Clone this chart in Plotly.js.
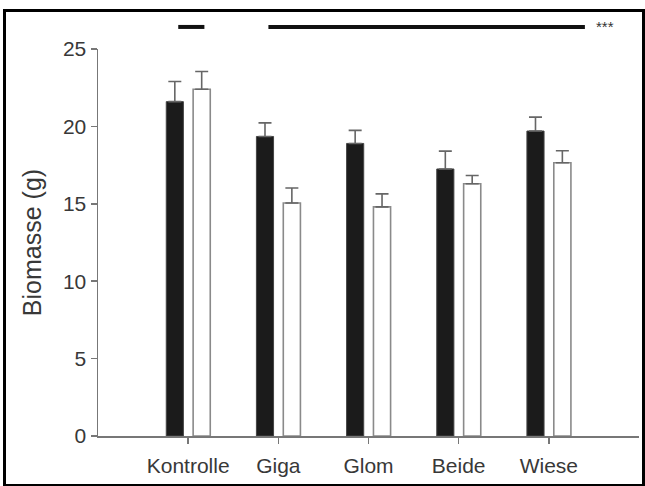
<!DOCTYPE html>
<html>
<head>
<meta charset="utf-8">
<script src="https://cdn.plot.ly/plotly-3.0.1.min.js"></script>
<style>
  html, body { margin:0; padding:0; background:#fff; }
  #wrap { position:relative; width:645px; height:486px; }
  #chart { position:absolute; left:0; top:0; width:645px; height:486px; }
  #frame { position:absolute; left:3px; top:9px; width:636px; height:472px; border:3px solid #000; pointer-events:none; }
</style>
</head>
<body>
<div id="wrap">
  <div id="chart"></div>
  <div id="frame"></div>
</div>
<script>
// Data
const categories = ["Kontrolle", "Giga", "Glom", "Beide", "Wiese"];
const blackValues = [21.6, 19.35, 18.9, 17.25, 19.7];
const blackErrors = [1.3, 0.88, 0.84, 1.15, 0.9];
const whiteValues = [22.4, 15.05, 14.8, 16.3, 17.65];
const whiteErrors = [1.15, 0.97, 0.84, 0.53, 0.78];
const yTicks = [0, 5, 10, 15, 20, 25];
// significance bars: [start category index, end category index]
const sigLines = [[-0.11, 0.18], [0.89, 4.4]];
const sigLabel = "***";

const xIdx = categories.map((c, i) => i);
const font = "Liberation Sans, Arial, sans-serif";

const traces = [
  {
    type: "bar", x: xIdx, y: blackValues,
    width: 0.19, offset: -0.243,
    marker: { color: "#1b1b1b", line: { color: "#444", width: 1 } },
    error_y: { type: "data", array: blackErrors, arrayminus: blackErrors.map(() => 0), symmetric: false,
               color: "#666", thickness: 1.6, width: 6.5 },
    showlegend: false, hoverinfo: "none"
  },
  {
    type: "bar", x: xIdx, y: whiteValues,
    width: 0.19, offset: 0.055,
    marker: { color: "#ffffff", line: { color: "#8a8a8a", width: 1.6 } },
    error_y: { type: "data", array: whiteErrors, arrayminus: whiteErrors.map(() => 0), symmetric: false,
               color: "#666", thickness: 1.6, width: 6.5 },
    showlegend: false, hoverinfo: "none"
  }
];

const shapes = sigLines.map(s => ({
  type: "line", xref: "x", yref: "paper",
  x0: s[0], x1: s[1], y0: 1.057, y1: 1.057,
  line: { color: "#111", width: 4 }
}));

const layout = {
  width: 645, height: 486,
  margin: { l: 97.5, r: 6, t: 49, b: 49.5 },
  paper_bgcolor: "#fff", plot_bgcolor: "#fff",
  font: { family: font, color: "#333", size: 21 },
  barmode: "overlay",
  xaxis: {
    range: [-1, 5], tickvals: xIdx, ticktext: categories,
    showline: true, linecolor: "#777", linewidth: 1.5,
    ticks: "outside", ticklen: 6, tickcolor: "#777", tickwidth: 1.5,
    showgrid: false, zeroline: false, ticklabelstandoff: 4,
    tickfont: { family: font, size: 21, color: "#383838" }
  },
  yaxis: {
    range: [0, 25], tickvals: yTicks,
    showline: true, linecolor: "#777", linewidth: 1.5,
    ticks: "outside", ticklen: 6, tickcolor: "#777", tickwidth: 1.5,
    showgrid: false, zeroline: false,
    tickfont: { family: font, size: 21, color: "#383838" },
    title: { text: "Biomasse (g)", font: { family: font, size: 25, color: "#383838" }, standoff: 14 }
  },
  shapes: shapes,
  annotations: [{
    xref: "x", yref: "paper", x: 4.5, y: 1.057, xanchor: "left", yanchor: "middle",
    text: sigLabel, showarrow: false, font: { family: font, size: 15, color: "#333" }
  }]
};

Plotly.newPlot("chart", traces, layout, { staticPlot: true, displayModeBar: false });
</script>
</body>
</html>
